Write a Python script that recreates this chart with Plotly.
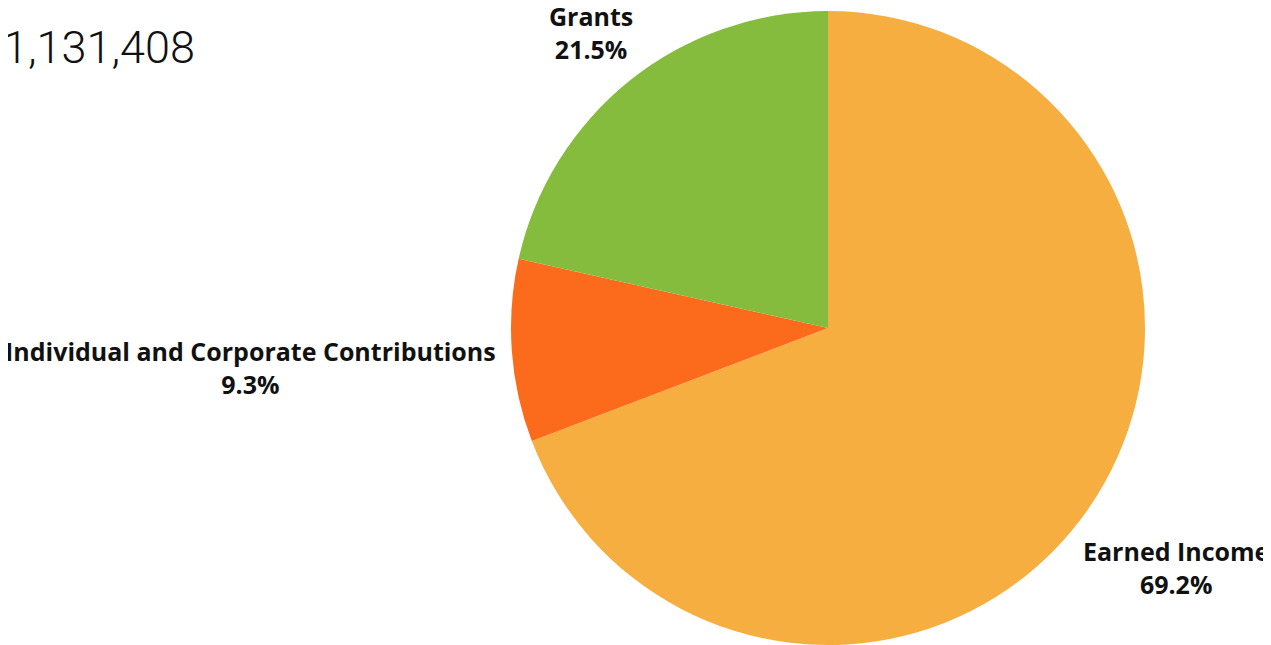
import math
import plotly.graph_objects as go

# ---- data ----
categories = ["Earned Income", "Individual and Corporate Contributions", "Grants"]
percents = [69.2, 9.3, 21.5]
colors = ["#F7AE40", "#FC6A1C", "#86BC3E"]
total_label = "$1,131,408"

W, H = 1271, 645
OFF = 8  # browser body margin
cx, cy, r = 828 - OFF, 328 - OFF, 317  # pie centre / radius in pixels

fig = go.Figure(go.Pie(
    labels=categories,
    values=percents,
    sort=False,
    direction="clockwise",
    rotation=0,
    marker=dict(colors=colors, line=dict(width=0)),
    textinfo="none",
    hoverinfo="label+percent",
    showlegend=False,
    domain=dict(x=[(cx - r) / W, (cx + r) / W], y=[1 - (cy + r) / H, 1 - (cy - r) / H]),
))

# label placement: distance from centre and anchor per slice
label_dist = [423, 331, 379]
label_anchor = ["center", "right", "center"]
label_yshift = [0, 16, 0]
font_fam = "'Open Sans', Lato, sans-serif"

total = sum(percents)
cum = 0
for cat, p, d, anc, ys in zip(categories, percents, label_dist, label_anchor, label_yshift):
    mid = (cum + p / 2) / total * 2 * math.pi
    cum += p
    px = cx + d * math.sin(mid)
    py = cy - d * math.cos(mid) + ys
    fig.add_annotation(
        x=px / W, y=1 - py / H, xref="paper", yref="paper",
        xanchor=anc, yanchor="middle", align="center",
        text=f"<b>{cat}</b><br><b>{p:.1f}%</b>",
        showarrow=False,
        font=dict(family=font_fam, size=25, color="#111111"),
    )

fig.add_annotation(
    x=(197 - OFF) / W, y=1 - (47 - OFF) / H, xref="paper", yref="paper",
    xanchor="right", yanchor="middle",
    text=total_label, showarrow=False,
    font=dict(family="Roboto, Lato, sans-serif", size=45, color="#111111", weight=300),
)

fig.update_layout(
    width=W, height=H,
    margin=dict(l=0, r=0, t=0, b=0),
    paper_bgcolor="white", plot_bgcolor="white",
)
fig.write_html("out.html")
